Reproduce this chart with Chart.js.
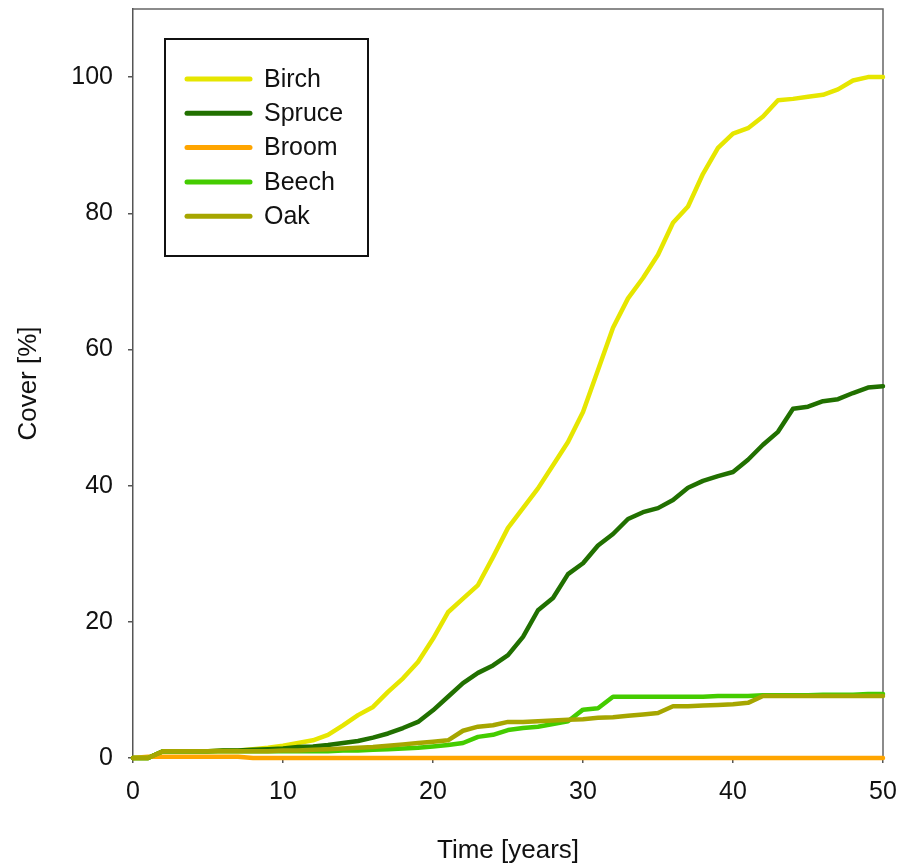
<!DOCTYPE html>
<html>
<head>
<meta charset="utf-8">
<title>Cover over time</title>
<script src="https://cdn.jsdelivr.net/npm/chart.js@4.4.1/dist/chart.umd.min.js"></script>
<style>
  body { margin: 0; background: #fff; }
  canvas { display: block; }
</style>
</head>
<body>
<canvas id="coverChart" width="904" height="866"></canvas>
<script>
// Data (one value per year)
const years = [0, 1, 2, 3, 4, 5, 6, 7, 8, 9, 10, 11, 12, 13, 14, 15, 16, 17, 18, 19, 20,
  21, 22, 23, 24, 25, 26, 27, 28, 29, 30, 31, 32, 33, 34, 35, 36, 37, 38, 39, 40,
  41, 42, 43, 44, 45, 46, 47, 48, 49, 50];

const birch = [0, 0, 1.0, 1.0, 1.0, 1.0, 1.1, 1.1, 1.3, 1.5, 1.8, 2.2, 2.6, 3.4, 4.8, 6.3,
  7.5, 9.7, 11.7, 14.1, 17.5, 21.4, 23.4, 25.4, 29.5, 33.8, 36.7, 39.6, 43.0, 46.4, 50.8,
  57.0, 63.2, 67.5, 70.5, 73.9, 78.6, 81.0, 85.8, 89.6, 91.7, 92.5, 94.2, 96.6, 96.8, 97.1,
  97.4, 98.2, 99.5, 100, 100];

const spruce = [0, 0, 1.0, 1.0, 1.0, 1.0, 1.1, 1.1, 1.2, 1.3, 1.4, 1.6, 1.7, 1.9, 2.2, 2.5,
  3.0, 3.6, 4.4, 5.3, 7.0, 9.0, 11.0, 12.5, 13.6, 15.1, 17.8, 21.7, 23.5, 27.0, 28.6,
  31.2, 32.9, 35.1, 36.1, 36.7, 37.9, 39.7, 40.7, 41.4, 42.0, 43.8, 46.0, 47.9, 51.3, 51.6,
  52.4, 52.7, 53.6, 54.4, 54.6];

const broom = [0, 0.2, 0.2, 0.2, 0.2, 0.2, 0.2, 0.2, 0, 0, 0, 0, 0, 0, 0, 0,
  0, 0, 0, 0, 0, 0, 0, 0, 0, 0, 0, 0, 0, 0, 0,
  0, 0, 0, 0, 0, 0, 0, 0, 0, 0, 0, 0, 0, 0, 0,
  0, 0, 0, 0, 0];

const beech = [0, 0, 1.0, 1.0, 1.0, 1.0, 1.0, 1.0, 1.0, 1.0, 1.0, 1.0, 1.0, 1.0, 1.1, 1.1,
  1.2, 1.3, 1.4, 1.5, 1.7, 1.9, 2.2, 3.1, 3.4, 4.1, 4.4, 4.6, 5.0, 5.4, 7.1,
  7.3, 9.0, 9.0, 9.0, 9.0, 9.0, 9.0, 9.0, 9.1, 9.1, 9.1, 9.2, 9.2, 9.2, 9.2,
  9.3, 9.3, 9.3, 9.4, 9.4];

const oak = [0, 0, 1.0, 1.0, 1.0, 1.0, 1.0, 1.0, 1.0, 1.0, 1.1, 1.1, 1.2, 1.3, 1.4, 1.5,
  1.6, 1.8, 2.0, 2.2, 2.4, 2.6, 4.0, 4.6, 4.8, 5.3, 5.3, 5.4, 5.5, 5.6, 5.7,
  5.9, 6.0, 6.2, 6.4, 6.6, 7.6, 7.6, 7.7, 7.8, 7.9, 8.1, 9.1, 9.1, 9.1, 9.1,
  9.1, 9.1, 9.1, 9.1, 9.1];

const species = ['Birch', 'Spruce', 'Broom', 'Beech', 'Oak'];
const colors = ['#e6e600', '#217000', '#ffa500', '#44cc00', '#a6a600'];
const seriesList = [birch, spruce, broom, beech, oak];

const FONT = "'Liberation Sans', Arial, Helvetica, sans-serif";

// top/right frame lines + boxed legend inside the plot
const frameAndLegend = {
  id: 'frameAndLegend',
  beforeDatasetsDraw(chart) {
    const {ctx, chartArea: a} = chart;
    ctx.save();
    ctx.strokeStyle = '#666';
    ctx.lineWidth = 1.5;
    ctx.beginPath();
    ctx.moveTo(a.left, a.top);
    ctx.lineTo(a.right, a.top);
    ctx.lineTo(a.right, a.bottom);
    ctx.stroke();
    ctx.restore();
  },
  afterDraw(chart) {
    const {ctx, chartArea: a} = chart;
    const x0 = a.left + 32, y0 = a.top + 30;
    ctx.save();
    ctx.fillStyle = '#fff';
    ctx.fillRect(x0, y0, 203, 217);
    ctx.strokeStyle = '#111';
    ctx.lineWidth = 2;
    ctx.strokeRect(x0, y0, 203, 217);
    ctx.font = '25px ' + FONT;
    ctx.textBaseline = 'middle';
    ctx.lineCap = 'round';
    chart.data.datasets.forEach((ds, i) => {
      const y = y0 + 40 + i * 34.3;
      ctx.strokeStyle = ds.borderColor;
      ctx.lineWidth = 5;
      ctx.beginPath();
      ctx.moveTo(x0 + 22, y);
      ctx.lineTo(x0 + 85, y);
      ctx.stroke();
      ctx.fillStyle = '#111';
      ctx.fillText(ds.label, x0 + 99, y + 1);
    });
    ctx.restore();
  }
};

const ctx = document.getElementById('coverChart').getContext('2d');
new Chart(ctx, {
  type: 'line',
  data: {
    datasets: species.map((name, i) => ({
      label: name,
      data: years.map((t, j) => ({x: t, y: seriesList[i][j]})),
      borderColor: colors[i],
      backgroundColor: colors[i],
      borderWidth: 4.5,
      borderCapStyle: 'round',
      borderJoinStyle: 'round',
      pointRadius: 0,
      tension: 0,
      clip: false,
      order: species.length - i
    }))
  },
  options: {
    responsive: false,
    animation: false,
    layout: {padding: {left: 0, top: 9, right: 21, bottom: 0}},
    plugins: {
      legend: {display: false},
      tooltip: {enabled: false}
    },
    scales: {
      x: {
        type: 'linear',
        min: 0,
        max: 50,
        ticks: {stepSize: 10, color: '#111', font: {family: FONT, size: 25}, padding: 14, maxRotation: 0},
        grid: {drawOnChartArea: false, drawTicks: true, tickLength: 5, color: '#555', lineWidth: 1.5},
        border: {display: true, color: '#555', width: 1.5},
        title: {display: true, text: 'Time [years]', color: '#111', font: {family: FONT, size: 26}, padding: {top: 0, bottom: 0}},
        afterFit: s => {
          s.height = 108;
          s.paddingLeft = 0;
          s.paddingRight = 0;
        }
      },
      y: {
        min: 0,
        max: 110,
        ticks: {stepSize: 20, includeBounds: false, color: '#111', font: {family: FONT, size: 25}, padding: 15},
        grid: {drawOnChartArea: false, drawTicks: true, tickLength: 5, color: '#555', lineWidth: 1.5},
        border: {display: true, color: '#555', width: 1.5},
        title: {display: true, text: 'Cover [%]', color: '#111', font: {family: FONT, size: 26}, padding: {top: 13, bottom: 0}},
        afterFit: s => {
          s.width = 133;
          s.paddingTop = 0;
          s.paddingBottom = 0;
        }
      }
    }
  },
  plugins: [frameAndLegend]
});
</script>
</body>
</html>
